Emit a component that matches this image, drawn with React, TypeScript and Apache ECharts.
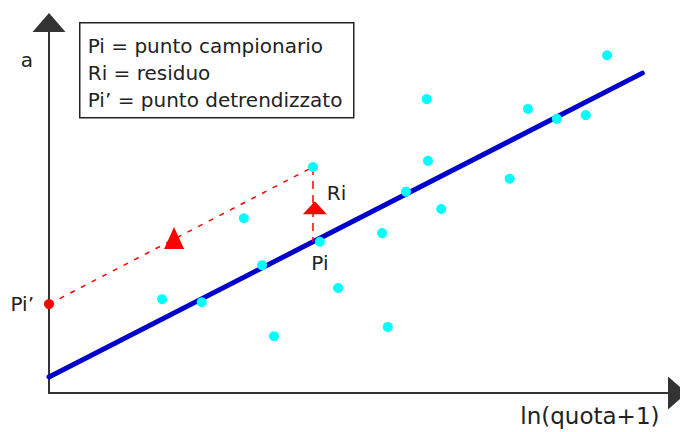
import React, { useEffect, useRef } from "react";
import * as echarts from "echarts";

// Sample points Pi (x = ln(quota+1), y = a)
const sampleX = [1.80, 2.43, 3.10, 3.39, 3.58, 4.20, 4.31, 4.60, 5.30, 5.39, 5.68, 6.01, 6.03, 6.24, 7.33, 7.62, 8.08, 8.54, 8.88];
const sampleY = [1.52, 1.47, 2.83, 2.07, 0.92, 3.66, 2.45, 1.70, 2.59, 1.07, 3.26, 4.76, 3.76, 2.98, 3.47, 4.60, 4.44, 4.50, 5.47];
const piIndex = 6; // point labelled "Pi"
const residualIndex = 5; // sample point whose residual is shown

// Regression line endpoints
const regX = [0, 9.44];
const regY = [0.26, 5.18];

// Detrended point Pi'
const detrendX = [0];
const detrendY = [1.44];

// Residual foot on the regression line
const residualFootY = 2.45;

// Arrow heads
const arrowX = [4.23, 1.99];
const arrowY = [3.0, 2.51];

// Texts
const legendLines = ["Pi = punto campionario", "Ri = residuo", "Pi’ = punto detrendizzato"];
const xAxisName = "ln(quota+1)";
const yAxisName = "a";
const piLabel = "Pi";
const riLabel = "Ri";
const piPrimeLabel = "Pi’";

const FONT = "'DejaVu Sans', Verdana, sans-serif";
const TEXT_COLOR = "#222";

export default function App() {
  const ref = useRef<HTMLDivElement>(null);

  useEffect(() => {
    if (!ref.current) return;
    const chart = echarts.init(ref.current, undefined, { renderer: "svg" });

    const scatterData = sampleX.map((x, i) => {
      const item: any = { value: [x, sampleY[i]] };
      if (i === piIndex) {
        item.label = {
          show: true,
          formatter: piLabel,
          position: "bottom",
          distance: 6,
          color: TEXT_COLOR,
          fontFamily: FONT,
          fontSize: 20,
        };
      }
      return item;
    });

    chart.setOption({
      animation: false,
      backgroundColor: "#ffffff",
      grid: { left: 49, right: 2.5, top: 22.5, bottom: 39, containLabel: false },
      xAxis: {
        type: "value",
        min: 0,
        max: 10,
        name: xAxisName,
        nameLocation: "end",
        nameGap: -18,
        nameTextStyle: {
          align: "right",
          verticalAlign: "top",
          padding: [11, 0, 0, 0],
          color: TEXT_COLOR,
          fontFamily: FONT,
          fontSize: 23,
        },
        axisLine: {
          show: true,
          symbol: ["none", "triangle"],
          symbolSize: [33, 19],
          lineStyle: { color: "#333", width: 2 },
        },
        axisTick: { show: false },
        axisLabel: { show: false },
        splitLine: { show: false },
      },
      yAxis: {
        type: "value",
        min: 0,
        max: 6,
        name: yAxisName,
        nameLocation: "end",
        nameGap: -37.5,
        nameTextStyle: {
          align: "right",
          verticalAlign: "middle",
          padding: [0, 16, 0, 0],
          color: TEXT_COLOR,
          fontFamily: FONT,
          fontSize: 20,
        },
        axisLine: {
          show: true,
          symbol: ["none", "triangle"],
          symbolSize: [33, 19],
          lineStyle: { color: "#333", width: 2 },
        },
        axisTick: { show: false },
        axisLabel: { show: false },
        splitLine: { show: false },
      },
      series: [
        {
          name: "retta",
          type: "line",
          data: regX.map((x, i) => [x, regY[i]]),
          showSymbol: false,
          symbol: "none",
          lineStyle: { color: "#0000CC", width: 5, cap: "round" },
          z: 2,
        },
        {
          name: "detrend",
          type: "line",
          data: [
            [detrendX[0], detrendY[0]],
            [sampleX[residualIndex], sampleY[residualIndex]],
          ],
          showSymbol: false,
          symbol: "none",
          lineStyle: { color: "#FF0000", width: 1.5, type: [5, 7] },
          z: 2,
        },
        {
          name: "residuo",
          type: "line",
          data: [
            [sampleX[residualIndex], sampleY[residualIndex]],
            [sampleX[residualIndex], residualFootY],
          ],
          showSymbol: false,
          symbol: "none",
          lineStyle: { color: "#FF0000", width: 1.5, type: [8, 6] },
          z: 2,
        },
        {
          name: "punti",
          type: "scatter",
          data: scatterData,
          symbol: "circle",
          symbolSize: 10,
          itemStyle: { color: "#00FFFF", opacity: 1 },
          z: 4,
        },
        {
          name: "frecce",
          type: "scatter",
          data: [
            {
              value: [arrowX[0], arrowY[0]],
              symbolSize: [24, 13],
              label: {
                show: true,
                formatter: riLabel,
                position: "right",
                distance: 0,
                offset: [0, -15],
                color: TEXT_COLOR,
                fontFamily: FONT,
                fontSize: 20,
              },
            },
            { value: [arrowX[1], arrowY[1]], symbolSize: [20, 22] },
          ],
          symbol: "triangle",
          itemStyle: { color: "#FF0000", opacity: 1 },
          z: 5,
        },
        {
          name: "detrendizzato",
          type: "scatter",
          data: detrendX.map((x, i) => [x, detrendY[i]]),
          symbol: "circle",
          symbolSize: 10,
          itemStyle: { color: "#FF0000", opacity: 1 },
          label: {
            show: true,
            formatter: piPrimeLabel,
            position: "left",
            distance: 10,
            color: TEXT_COLOR,
            fontFamily: FONT,
            fontSize: 20,
          },
          z: 5,
        },
      ],
      graphic: [
        {
          type: "group",
          left: 79,
          top: 22,
          children: [
            {
              type: "rect",
              shape: { x: 0, y: 0, width: 274, height: 95 },
              style: { fill: "#ffffff", stroke: "#222", lineWidth: 1.5 },
            },
            ...legendLines.map((t, i) => ({
              type: "text",
              x: 8,
              y: 23 + i * 27,
              style: {
                text: t,
                fill: TEXT_COLOR,
                font: `20px ${FONT}`,
                textAlign: "left",
                textVerticalAlign: "middle",
              },
            })),
          ],
        },
      ],
    });

    return () => chart.dispose();
  }, []);

  return (
    <div
      ref={ref}
      style={{ position: "absolute", left: 0, top: 0, width: 680, height: 432 }}
    />
  );
}
